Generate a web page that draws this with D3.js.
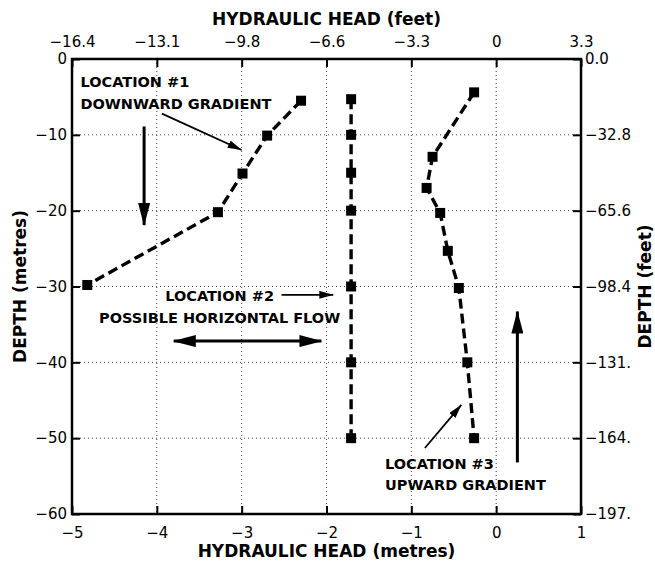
<!DOCTYPE html>
<html>
<head>
<meta charset="utf-8">
<script src="https://cdn.jsdelivr.net/npm/d3@7"></script>
<style>
  body { margin: 0; background: #fff; }
  text { font-family: "DejaVu Sans", Verdana, sans-serif; fill: #000; }
</style>
</head>
<body>
<svg id="chart" width="655" height="565"></svg>
<script>
// hydraulic head (m) vs depth (m) at three locations
const loc1Head = [-2.30, -2.70, -2.99, -3.28, -4.82];
const loc1Depth = [-5.5, -10.1, -15.1, -20.2, -29.8];

const loc2Head = [-1.71, -1.71, -1.71, -1.71, -1.71, -1.71, -1.71];
const loc2Depth = [-5.3, -10, -15, -20, -30, -40, -50];

const loc3Head = [-0.26, -0.75, -0.82, -0.66, -0.57, -0.44, -0.34, -0.26];
const loc3Depth = [-4.4, -12.9, -17.0, -20.3, -25.3, -30.2, -40.0, -50.0];

const xTicks = [-5, -4, -3, -2, -1, 0, 1];
const xTickFeet = ['−16.4', '−13.1', '−9.8', '−6.6', '−3.3', '0', '3.3'];
const yTicks = [0, -10, -20, -30, -40, -50, -60];
const yTickFeet = ['0.0', '−32.8', '−65.6', '−98.4', '−131.', '−164.', '−197.'];

const svg = d3.select('#chart');
const W = 655, H = 565;
const margin = {top: 59, right: 74, bottom: 51, left: 72};

const x = d3.scaleLinear().domain([-5, 1]).range([margin.left, W - margin.right]);
const y = d3.scaleLinear().domain([0, -60]).range([margin.top, H - margin.bottom]);

// grid (dotted)
const grid = svg.append('g').attr('class', 'grid')
  .attr('stroke', '#444').attr('stroke-width', 1).attr('stroke-dasharray', '1,3');
grid.selectAll('line.gx').data(xTicks.slice(1, -1)).join('line')
  .attr('x1', d => x(d)).attr('x2', d => x(d))
  .attr('y1', y(0)).attr('y2', y(-60));
grid.selectAll('line.gy').data(yTicks.slice(1, -1)).join('line')
  .attr('x1', x(-5)).attr('x2', x(1))
  .attr('y1', d => y(d)).attr('y2', d => y(d));

// axes, ticks pointing inward
const tickLen = 8;
const intFmt = d3.format('d');
const styleAxis = g => {
  g.select('.domain').remove();
  g.selectAll('.tick line').attr('stroke', '#000').attr('stroke-width', 2);
  g.selectAll('.tick text').attr('font-size', 15).attr('fill', '#000')
    .style('font-family', '"DejaVu Sans", Verdana, sans-serif');
};

svg.append('g')
  .attr('transform', `translate(0,${y(-60)})`)
  .call(d3.axisBottom(x).tickValues(xTicks).tickFormat(intFmt)
    .tickSizeInner(-tickLen).tickSizeOuter(0).tickPadding(13))
  .call(styleAxis);

svg.append('g')
  .attr('transform', `translate(0,${y(0)})`)
  .call(d3.axisTop(x).tickValues(xTicks).tickSizeInner(-tickLen).tickSizeOuter(0).tickPadding(12)
    .tickFormat((d, i) => xTickFeet[i]))
  .call(styleAxis);

svg.append('g')
  .attr('transform', `translate(${x(-5)},0)`)
  .call(d3.axisLeft(y).tickValues(yTicks).tickFormat(intFmt)
    .tickSizeInner(-tickLen).tickSizeOuter(0).tickPadding(5))
  .call(styleAxis);

svg.append('g')
  .attr('transform', `translate(${x(1)},0)`)
  .call(d3.axisRight(y).tickValues(yTicks).tickSizeInner(-tickLen).tickSizeOuter(0).tickPadding(4)
    .tickFormat((d, i) => yTickFeet[i]))
  .call(styleAxis);

// plot frame
svg.append('rect')
  .attr('x', x(-5)).attr('y', y(0))
  .attr('width', x(1) - x(-5)).attr('height', y(-60) - y(0))
  .attr('fill', 'none').attr('stroke', '#000').attr('stroke-width', 2.5);

// axis titles
const titleSize = 17;
svg.append('text').attr('x', (x(-5) + x(1)) / 2).attr('y', 25)
  .attr('text-anchor', 'middle').attr('font-size', titleSize).attr('font-weight', 'bold')
  .text('HYDRAULIC HEAD (feet)');
svg.append('text').attr('x', (x(-5) + x(1)) / 2).attr('y', 557)
  .attr('text-anchor', 'middle').attr('font-size', titleSize).attr('font-weight', 'bold')
  .text('HYDRAULIC HEAD (metres)');
svg.append('text').attr('transform', `translate(26,${(y(0) + y(-60)) / 2}) rotate(-90)`)
  .attr('text-anchor', 'middle').attr('font-size', titleSize).attr('font-weight', 'bold')
  .text('DEPTH (metres)');
svg.append('text').attr('transform', `translate(651,${(y(0) + y(-60)) / 2}) rotate(-90)`)
  .attr('text-anchor', 'middle').attr('font-size', titleSize).attr('font-weight', 'bold')
  .text('DEPTH (feet)');

// series
const series = [
  d3.zip(loc1Head, loc1Depth),
  d3.zip(loc2Head, loc2Depth),
  d3.zip(loc3Head, loc3Depth)
];
const line = d3.line().x(d => x(d[0])).y(d => y(d[1]));
const sq = 10;

const sg = svg.append('g').attr('class', 'series');
series.forEach(pts => {
  sg.append('path').datum(pts)
    .attr('d', line)
    .attr('fill', 'none').attr('stroke', '#000')
    .attr('stroke-width', 3.4).attr('stroke-dasharray', '10,5');
  sg.selectAll(null).data(pts).join('rect')
    .attr('x', d => x(d[0]) - sq / 2).attr('y', d => y(d[1]) - sq / 2)
    .attr('width', sq).attr('height', sq).attr('fill', '#000');
});

// arrow markers
const defs = svg.append('defs');
defs.append('marker').attr('id', 'headThin')
  .attr('markerUnits', 'userSpaceOnUse').attr('viewBox', '0 0 14 8')
  .attr('markerWidth', 14).attr('markerHeight', 8)
  .attr('refX', 14).attr('refY', 4).attr('orient', 'auto-start-reverse')
  .append('path').attr('d', 'M0,0 L14,4 L0,8 Z').attr('fill', '#000');
defs.append('marker').attr('id', 'headThick')
  .attr('markerUnits', 'userSpaceOnUse').attr('viewBox', '0 0 23 12')
  .attr('markerWidth', 23).attr('markerHeight', 12)
  .attr('refX', 22).attr('refY', 6).attr('orient', 'auto-start-reverse')
  .append('path').attr('d', 'M0,0 L23,6 L0,12 Z').attr('fill', '#000');

// annotations in data units
const thinArrows = [
  {x1: -3.94, y1: -7.2, x2: -3.00, y2: -12.0},
  {x1: -2.53, y1: -31.1, x2: -1.92, y2: -31.1},
  {x1: -0.84, y1: -51.3, x2: -0.41, y2: -45.6}
];
const thickArrows = [
  {x1: -4.15, y1: -8.9, x2: -4.15, y2: -21.9, both: false},
  {x1: -3.80, y1: -37.2, x2: -2.06, y2: -37.2, both: true},
  {x1: 0.25, y1: -53.2, x2: 0.25, y2: -33.3, both: false}
];
const labels = [
  {x: -4.90, y: -3.7, anchor: 'start', text: 'LOCATION #1'},
  {x: -4.90, y: -6.6, anchor: 'start', text: 'DOWNWARD GRADIENT'},
  {x: -3.26, y: -31.9, anchor: 'middle', text: 'LOCATION #2'},
  {x: -3.26, y: -34.8, anchor: 'middle', text: 'POSSIBLE HORIZONTAL FLOW'},
  {x: -1.31, y: -54.1, anchor: 'start', text: 'LOCATION #3'},
  {x: -1.31, y: -56.9, anchor: 'start', text: 'UPWARD GRADIENT'}
];

const ann = svg.append('g').attr('class', 'annotations');
ann.selectAll('line.thin').data(thinArrows).join('line')
  .attr('x1', d => x(d.x1)).attr('y1', d => y(d.y1))
  .attr('x2', d => x(d.x2)).attr('y2', d => y(d.y2))
  .attr('stroke', '#000').attr('stroke-width', 1.8)
  .attr('marker-end', 'url(#headThin)');
ann.selectAll('line.thick').data(thickArrows).join('line')
  .attr('x1', d => x(d.x1)).attr('y1', d => y(d.y1))
  .attr('x2', d => x(d.x2)).attr('y2', d => y(d.y2))
  .attr('stroke', '#000').attr('stroke-width', 3)
  .attr('marker-end', 'url(#headThick)')
  .attr('marker-start', d => d.both ? 'url(#headThick)' : null);
ann.selectAll('text').data(labels).join('text')
  .attr('x', d => x(d.x)).attr('y', d => y(d.y))
  .attr('text-anchor', d => d.anchor)
  .attr('font-size', 14.5).attr('font-weight', 'bold')
  .text(d => d.text);
</script>
</body>
</html>
